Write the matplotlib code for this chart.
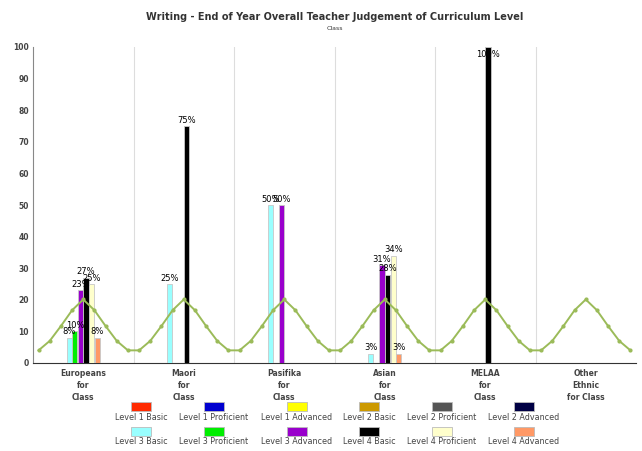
import numpy as np
import matplotlib
matplotlib.use("Agg")
import matplotlib.pyplot as plt
from matplotlib.patches import Rectangle

# categories along the x axis
categories = ["Europeans\nfor\nClass", "Maori\nfor\nClass", "Pasifika\nfor\nClass",
              "Asian\nfor\nClass", "MELAA\nfor\nClass", "Other\nEthnic\nfor Class"]

levels = ["Level 1 Basic", "Level 1 Proficient", "Level 1 Advanced",
          "Level 2 Basic", "Level 2 Proficient", "Level 2 Advanced",
          "Level 3 Basic", "Level 3 Proficient", "Level 3 Advanced",
          "Level 4 Basic", "Level 4 Proficient", "Level 4 Advanced"]

colors = ["#ff2a00", "#0000d0", "#ffff00", "#cc9900", "#555555", "#000044",
          "#99ffff", "#00ee00", "#9900cc", "#000000", "#ffffcc", "#ff9966"]

# percent per level (rows) and category (cols)
l1_basic = [0, 0, 0, 0, 0, 0]
l1_prof = [0, 0, 0, 0, 0, 0]
l1_adv = [0, 0, 0, 0, 0, 0]
l2_basic = [0, 0, 0, 0, 0, 0]
l2_prof = [0, 0, 0, 0, 0, 0]
l2_adv = [0, 0, 0, 0, 0, 0]
l3_basic = [8, 25, 50, 3, 0, 0]
l3_prof = [10, 0, 0, 0, 0, 0]
l3_adv = [23, 0, 50, 31, 0, 0]
l4_basic = [27, 75, 0, 28, 100, 0]
l4_prof = [25, 0, 0, 34, 0, 0]
l4_adv = [8, 0, 0, 3, 0, 0]
pct = [l1_basic, l1_prof, l1_adv, l2_basic, l2_prof, l2_adv,
       l3_basic, l3_prof, l3_adv, l4_basic, l4_prof, l4_adv]

# green reference curve, same bump in every category
curve_bump = [4, 7, 11.7, 16.7, 20.1, 16.7, 11.7, 7, 4]

W, H = 642, 451
fig = plt.figure(figsize=(W / 100, H / 100), dpi=100)
ax = fig.add_axes([33 / W, 1 - 363 / H, (636 - 33) / W, (363 - 47) / H])

nslots = 18
slot = 1.0 / nslots
for li, vals in enumerate(pct):
    for ci, v in enumerate(vals):
        if v <= 0:
            continue
        x = ci + (li + 0.5) * slot
        ax.bar(x, v, width=slot * 0.92, color=colors[li], edgecolor="#c8c8c8",
               linewidth=0.6, zorder=3)
        if v >= 96:
            ax.annotate("%d%%" % v, (x, 100), xytext=(0, -2), textcoords="offset points",
                        ha="center", va="top", fontsize=6, zorder=6)
        else:
            ax.annotate("%d%%" % v, (x, v), xytext=(0, 1), textcoords="offset points",
                        ha="center", va="bottom", fontsize=6, zorder=6)

npts = len(curve_bump)
cx, cy = [], []
for ci in range(len(categories)):
    for j, val in enumerate(curve_bump):
        cx.append(ci + (j + 0.5) / npts)
        cy.append(val)
ax.plot(cx, cy, color="#9bbb59", linewidth=1.4, marker="o", markersize=2, zorder=4)

ax.set_xlim(0, len(categories))
ax.set_ylim(0, 100)
for b in range(1, len(categories)):
    ax.axvline(b, color="#dddddd", linewidth=0.8, zorder=1)

ax.set_yticks(np.arange(0, 101, 10))
ax.tick_params(axis="y", length=0, pad=3, labelsize=5.5, labelcolor="#444444")
for t in ax.get_yticklabels():
    t.set_fontweight("bold")
ax.set_xticks(np.arange(len(categories)) + 0.5)
ax.set_xticklabels(categories, fontsize=5.5, fontweight="bold", color="#444444",
                   linespacing=1.45)
ax.tick_params(axis="x", length=0, pad=4)

ax.spines["top"].set_visible(False)
ax.spines["right"].set_visible(False)
ax.spines["left"].set_color("#888888")
ax.spines["bottom"].set_color("#333333")

fig.text(335 / W, 1 - 17 / H, "Writing - End of Year Overall Teacher Judgement of Curriculum Level",
         ha="center", va="center", fontsize=7, fontweight="bold", color="#333333")
fig.text(335 / W, 1 - 28 / H, "Class", ha="center", va="center", fontsize=4.5, color="#333333")

# legend, two rows of six
col_x = [141, 214, 297, 369, 442, 524]
row_y = [406, 431]
for li, name in enumerate(levels):
    r, c = divmod(li, 6)
    px, py = col_x[c], row_y[r]
    fig.add_artist(Rectangle(((px - 10) / W, 1 - (py + 4.5) / H), 20 / W, 9 / H,
                             transform=fig.transFigure, facecolor=colors[li],
                             edgecolor="#bbbbbb", linewidth=0.6))
    fig.text(px / W, 1 - (py + 11) / H, name, ha="center", va="center",
             fontsize=5.8, color="#444444")

fig.savefig("out.png", dpi=100)
